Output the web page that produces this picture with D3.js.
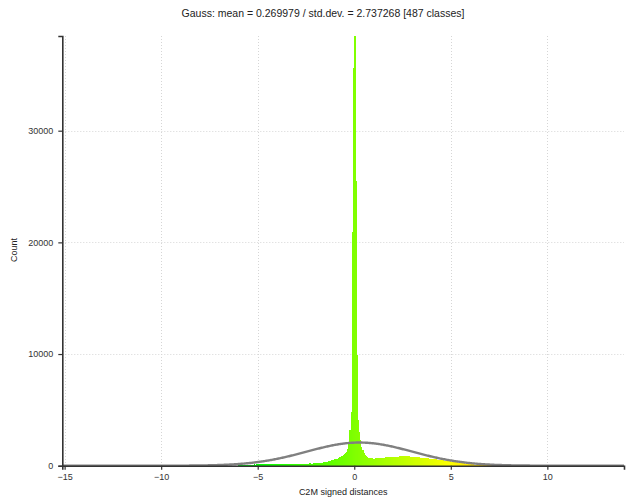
<!DOCTYPE html>
<html>
<head>
<meta charset="utf-8">
<script src="https://cdn.jsdelivr.net/npm/d3@7"></script>
<style>
  body { margin: 0; background: #fff; }
  svg { display: block; }
</style>
</head>
<body>
<svg id="chart" width="630" height="504"></svg>
<script>
// Histogram of C2M signed distances with fitted Gauss curve
const titleText = "Gauss: mean = 0.269979 / std.dev. = 2.737268 [487 classes]";
const xLabel = "C2M signed distances";
const yLabel = "Count";
const gaussMean = 0.269979;
const gaussStd = 2.737268;
const classCount = 487;
const distanceRange = [-15.12, 13.97];
const countMax = 38480;
const xMajorTicks = [-15, -10, -5, 0, 5, 10];
const yMajorTicks = [0, 10000, 20000, 30000];
const colorStops = [-15, -5, 5, 15];
const colorRamp = ["#0000ff", "#00ff00", "#ffff00", "#ff0000"];

// isolated small group of far negative distances
const farBinStart = 70;
const farBinCounts = [30, 40, 35, 45, 40, 38, 42, 35, 40, 45, 38, 40, 36, 30, 25];

// main body of the distribution (class index of first entry = mainBinStart)
const mainBinStart = 151;
const mainBinCounts = [
  15, 20, 30, 25, 40, 45, 40, 55, 60, 65,
  70, 80, 75, 90, 95, 110, 105, 120, 130, 125,
  140, 135, 150, 145, 160, 150, 155, 165, 150, 160,
  155, 165, 160, 150, 170, 160, 155, 165, 170, 160,
  165, 170, 160, 175, 165, 170, 180, 165, 175, 170,
  180, 175, 170, 185, 175, 180, 190, 180, 185, 190,
  185, 195, 190, 200, 190, 195, 205, 200, 210, 220,
  230, 240, 250, 265, 280, 300, 320, 340, 360, 385,
  410, 440, 470, 500, 530, 560, 600, 640, 690, 740,
  800, 860, 930, 1010, 1100, 1250, 1500, 2100, 3200, 4800,
  20950, 35630, 38470, 25490, 9900, 4100, 3000, 2300, 1700, 1400,
  1150, 1000, 880, 790, 730, 690, 660, 650, 640, 640,
  650, 660, 670, 680, 690, 700, 710, 720, 730, 740,
  740, 760, 750, 770, 780, 760, 790, 800, 780, 810,
  820, 850, 830, 860, 840, 870, 850, 830, 860, 840,
  820, 800, 810, 780, 790, 760, 770, 740, 750, 720,
  730, 700, 690, 680, 670, 660, 650, 640, 620, 610,
  600, 590, 570, 560, 540, 530, 510, 500, 480, 470,
  450, 440, 420, 410, 390, 380, 360, 350, 330, 310,
  300, 290, 270, 260, 250, 230, 220, 200, 190, 180,
  170, 150, 140, 130, 120, 110, 100, 90, 80, 75,
  70, 60, 55, 50, 45, 40, 35, 30, 28, 25,
  22, 20, 18, 16, 14, 12, 10, 9, 8, 6,
  5, 5, 4, 4, 3, 3, 2, 2, 1, 1
];

const W = 630, H = 504;
const margin = { left: 62.3, right: 6, top: 36, bottom: 38.3 };
const svg = d3.select("#chart");
svg.append("rect").attr("width", W).attr("height", H).attr("fill", "#fff");

const x = d3.scaleLinear().domain(distanceRange).range([margin.left, W - margin.right]);
const y = d3.scaleLinear().domain([0, countMax]).range([H - margin.bottom, margin.top]);
const color = d3.scaleLinear().domain(colorStops).range(colorRamp).clamp(true);

// assemble the classes
const binWidth = (distanceRange[1] - distanceRange[0]) / classCount;
const bins = d3.range(classCount).map(i => {
  let c = 0;
  if (i >= farBinStart && i < farBinStart + farBinCounts.length) c = farBinCounts[i - farBinStart];
  if (i >= mainBinStart && i < mainBinStart + mainBinCounts.length) c = mainBinCounts[i - mainBinStart];
  const x0 = distanceRange[0] + i * binWidth;
  return { x0, x1: x0 + binWidth, count: c };
});
const total = d3.sum(bins, d => d.count);

// grid
const grid = svg.append("g").attr("stroke", "#d6d6d6").attr("stroke-width", 1)
  .attr("stroke-dasharray", "1,2");
grid.selectAll(".gx").data(xMajorTicks).join("line")
  .attr("x1", d => Math.round(x(d)) + 0.5).attr("x2", d => Math.round(x(d)) + 0.5)
  .attr("y1", y.range()[1]).attr("y2", y.range()[0]);
grid.selectAll(".gy").data(yMajorTicks.slice(1)).join("line")
  .attr("y1", d => Math.round(y(d)) + 0.5).attr("y2", d => Math.round(y(d)) + 0.5)
  .attr("x1", x.range()[0]).attr("x2", x.range()[1]);

// bars
svg.append("g").attr("shape-rendering", "crispEdges")
  .selectAll("rect").data(bins.filter(b => b.count > 0)).join("rect")
  .attr("x", d => x(d.x0))
  .attr("width", d => x(d.x1) - x(d.x0) + 0.3)
  .attr("y", d => y(d.count))
  .attr("height", d => y(0) - y(d.count))
  .attr("fill", d => color((d.x0 + d.x1) / 2));

// Gauss curve scaled to the histogram area
const amp = total * binWidth / (gaussStd * Math.sqrt(2 * Math.PI));
const gx = d3.range(0, 601).map(k => distanceRange[0] + k * (distanceRange[1] - distanceRange[0]) / 600);
const gauss = v => amp * Math.exp(-((v - gaussMean) ** 2) / (2 * gaussStd * gaussStd));
svg.append("path")
  .datum(gx)
  .attr("fill", "none").attr("stroke", "#808080").attr("stroke-width", 2.4)
  .attr("d", d3.line().x(v => x(v)).y(v => y(gauss(v))));

// axes
const fontFam = "'Liberation Sans', Arial, sans-serif";
const xAxis = svg.append("g").attr("transform", `translate(0,${y(0)})`);
xAxis.call(d3.axisBottom(x).tickValues(d3.range(-15, 14)).tickSize(3).tickFormat(""));
xAxis.call(d3.axisBottom(x).tickValues(xMajorTicks).tickSize(4).tickPadding(4).tickFormat(d3.format("d")));
const yAxis = svg.append("g").attr("transform", `translate(${x.range()[0]},0)`);
yAxis.call(d3.axisLeft(y).tickValues(d3.range(0, countMax, 2000)).tickSize(3).tickFormat(""));
yAxis.call(d3.axisLeft(y).tickValues(yMajorTicks).tickSize(4).tickPadding(5).tickFormat(d3.format("d")));
svg.selectAll(".domain").attr("stroke", "#333").attr("stroke-width", 1.6);
svg.selectAll(".tick line").attr("stroke", "#333").attr("stroke-width", 1.2);
svg.selectAll(".tick text").attr("fill", "#333").attr("font-family", fontFam).attr("font-size", 9);

// titles
svg.append("text").attr("x", 323).attr("y", 17).attr("text-anchor", "middle")
  .attr("font-family", fontFam).attr("font-size", 10.5).attr("fill", "#222").text(titleText);
svg.append("text").attr("x", (x.range()[0] + x.range()[1]) / 2).attr("y", 495).attr("text-anchor", "middle")
  .attr("font-family", fontFam).attr("font-size", 9).attr("fill", "#222").text(xLabel);
svg.append("text").attr("transform", "translate(17,250) rotate(-90)").attr("text-anchor", "middle")
  .attr("font-family", fontFam).attr("font-size", 9).attr("fill", "#222").text(yLabel);
</script>
</body>
</html>
